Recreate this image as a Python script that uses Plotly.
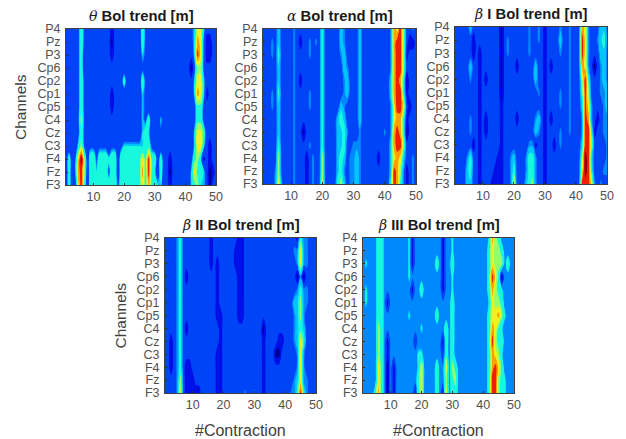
import plotly.graph_objects as go

channels = ["P4","Pz","P3","Cp6","Cp2","Cp1","Cp5","C4","Cz","C3","F4","Fz","F3"]
contractions = list(range(1, 51))
x_ticks = [10, 20, 30, 40, 50]

theta = [
[2,2,2,2,3,5,3,2,2,2, 2,2,2,2,2,1,2,2,2,2, 2,2,2,2,2,5,3,2,2,2, 2,2,2,2,2,2,2,2,2,2, 2,3,4,7,7,4,2,2,2,2],
[2,2,2,2,3,5,3,2,2,2, 2,2,2,2,2,0,2,2,2,2, 2,2,2,2,2,5,3,2,2,2, 2,2,2,2,2,2,2,2,2,2, 2,3,4,8,7,3,1,1,2,2],
[2,2,2,2,3,5,2,2,2,2, 2,2,2,2,2,1,2,2,2,2, 2,2,2,2,2,4,3,2,2,2, 2,2,2,2,2,2,2,2,2,2, 2,2,4,9,7,3,1,1,2,2],
[2,2,2,2,3,5,2,2,2,2, 2,2,2,2,2,2,2,2,2,2, 2,2,2,2,2,3,2,2,2,2, 2,2,2,2,2,2,2,2,2,2, 2,0,3,6,6,3,2,2,2,2],
[2,2,2,2,3,5,3,2,2,2, 2,2,2,2,2,2,2,2,2,5, 2,2,2,2,2,5,3,2,2,2, 2,2,2,2,2,2,2,2,2,2, 2,2,4,7,7,4,2,2,2,2],
[2,2,2,2,3,5,3,2,2,2, 2,2,2,2,2,1,2,2,2,2, 2,2,2,2,2,4,3,2,2,2, 2,2,2,2,2,2,2,2,2,2, 2,2,4,8,7,4,1,2,2,2],
[2,2,2,2,3,5,3,2,2,2, 2,2,2,2,2,1,2,2,2,2, 2,2,2,2,2,4,3,2,2,2, 2,2,2,2,2,2,2,2,2,2, 2,2,3,5,5,3,2,2,2,2],
[2,2,2,2,3,6,3,2,2,2, 2,2,2,2,2,2,2,2,2,2, 2,2,2,2,2,4,3,5,2,2, 2,4,2,2,2,2,2,2,2,2, 2,2,3,5,5,3,2,2,2,2],
[2,2,2,2,3,5,3,2,2,2, 2,2,2,2,2,2,2,2,2,2, 2,2,2,2,2,4,5,4,2,2, 2,3,2,2,2,2,2,2,2,2, 2,2,4,7,7,5,2,2,2,2],
[2,2,2,2,4,6,3,2,3,3, 2,3,3,3,2,3,3,2,3,4, 4,4,4,4,4,4,5,5,3,2, 2,2,2,2,2,2,2,2,2,2, 2,2,4,7,7,4,2,1,2,2],
[2,5,2,3,7,10,6,2,5,5, 3,5,5,5,4,5,5,2,5,5, 5,5,5,5,5,7,5,9,5,5, 2,5,2,2,1,2,2,2,2,2, 2,3,5,6,4,1,2,1,2,2],
[2,5,2,3,8,9,6,2,5,5, 4,5,5,5,3,5,5,2,5,5, 5,5,5,5,5,8,5,9,5,4, 2,5,2,2,0,2,2,2,2,2, 2,4,7,5,5,4,2,0,1,2],
[2,5,2,2,7,9,5,2,5,5, 5,5,5,5,5,5,5,3,5,5, 5,5,5,5,5,7,5,8,5,5, 4,4,2,2,1,2,2,2,2,2, 2,4,5,6,4,4,2,0,2,2],
]

alpha = [
[2,2,2,2,2,4,2,2,2,2, 3,2,2,2,2,2,2,2,2,5, 2,2,2,2,2,4,3,2,2,2, 2,4,2,2,2,2,2,2,2,2, 2,3,8,7,9,6,2,2,3,2],
[2,2,2,3,2,4,2,2,2,2, 3,2,1,2,2,3,2,3,2,5, 2,2,2,2,2,4,3,2,2,2, 2,4,2,2,2,2,2,2,2,2, 2,3,8,9,9,6,2,1,1,2],
[2,2,2,3,2,5,2,2,2,2, 3,2,2,2,2,3,2,2,2,5, 2,2,2,2,2,3,4,2,2,2, 2,4,2,2,2,2,2,2,2,2, 2,3,8,9,9,6,1,2,2,2],
[2,2,2,2,2,4,2,2,2,2, 3,2,2,2,2,2,2,2,2,5, 2,2,2,2,2,2,4,3,2,2, 2,4,2,2,2,2,2,2,2,2, 2,3,8,9,9,6,2,2,2,2],
[2,2,2,2,2,4,2,2,2,2, 3,2,1,2,2,2,2,2,2,5, 2,2,2,2,2,2,3,4,2,2, 2,4,2,2,2,2,2,2,2,2, 2,4,8,9,8,5,0,2,2,2],
[2,2,2,3,2,5,2,2,2,2, 3,2,2,2,2,3,2,2,2,5, 2,2,2,2,2,2,3,4,2,2, 2,4,2,2,2,2,2,2,2,2, 2,4,8,9,9,5,1,2,2,2],
[2,2,2,3,2,4,2,2,2,2, 3,2,2,2,2,3,2,2,2,5, 2,2,2,2,2,4,3,2,2,2, 2,4,2,2,2,2,2,2,2,2, 2,3,7,9,9,7,2,1,2,2],
[2,2,2,2,2,4,2,2,2,2, 3,2,2,2,2,2,2,2,2,5, 2,2,2,2,4,5,4,2,2,2, 2,4,2,2,2,2,2,2,2,2, 2,3,7,8,8,5,1,2,2,2],
[2,2,2,2,2,4,2,2,2,2, 3,2,2,0,2,2,2,2,2,5, 2,2,2,2,4,4,5,3,2,2, 2,3,2,2,2,2,2,2,2,3, 2,3,8,9,8,5,0,2,2,2],
[2,2,2,2,2,5,2,2,2,2, 3,2,2,2,2,3,2,2,2,5, 2,2,2,2,4,4,5,2,2,3, 3,3,2,2,2,2,2,2,2,2, 2,4,8,9,9,6,2,2,2,2],
[2,2,2,2,2,6,2,2,2,2, 3,2,2,2,1,2,3,2,2,6, 2,2,2,2,4,5,4,2,3,3, 4,3,2,2,2,2,2,1,2,2, 2,4,7,8,7,4,2,2,3,2],
[2,2,2,2,3,6,2,2,2,2, 3,2,2,2,1,2,3,2,2,6, 2,2,2,2,4,5,3,2,3,3, 4,3,2,2,2,2,2,2,2,2, 2,4,9,8,6,3,1,2,3,2],
[2,2,2,2,3,7,3,2,2,2, 3,2,2,2,1,2,3,2,2,7, 2,2,2,2,5,6,4,2,3,3, 4,3,2,2,2,2,2,2,2,2, 2,5,9,8,5,3,1,2,3,2],
]

beta1 = [
[2,2,2,2,2,4,2,2,2,2, 2,2,2,2,2,0,2,2,2,2, 2,2,2,2,3,2,2,3,2,1, 2,2,2,2,3,2,2,3,2,2, 2,8,7,3,2,2,2,4,4,3],
[2,2,2,2,2,2,1,2,2,2, 2,2,2,2,2,0,2,3,2,2, 2,2,2,2,3,2,2,3,2,1, 2,2,2,2,4,2,2,3,2,2, 2,9,7,3,2,2,3,4,5,3],
[2,2,2,2,2,2,1,2,1,2, 2,2,2,2,2,0,2,3,2,2, 2,2,2,2,3,2,2,2,2,1, 2,2,2,2,3,2,2,3,2,2, 2,9,7,3,2,2,2,4,4,3],
[2,2,2,2,2,4,2,2,1,2, 2,2,2,2,2,0,2,2,2,2, 1,2,2,2,2,2,4,2,2,1, 2,1,2,2,2,2,2,3,2,2, 2,8,7,3,2,0,2,3,4,3],
[2,2,2,2,2,3,2,2,1,2, 1,2,2,2,2,0,2,2,2,2, 2,2,2,2,2,2,4,2,2,1, 2,2,2,2,2,2,2,3,2,2, 2,6,9,5,2,2,2,3,4,3],
[2,2,2,2,2,2,2,2,1,2, 2,2,2,2,2,0,2,2,2,2, 2,2,2,2,2,2,2,3,2,1, 2,2,2,2,3,2,2,3,2,2, 2,5,9,6,2,2,2,3,3,4],
[2,2,2,2,2,2,2,2,1,2, 2,2,2,2,2,1,2,2,2,2, 2,2,2,2,2,2,2,2,2,1, 2,2,2,2,3,2,2,3,2,2, 2,4,9,7,3,2,2,2,3,4],
[2,2,2,2,2,3,2,2,1,2, 1,2,2,2,2,1,2,2,2,2, 1,2,2,2,2,2,3,4,2,1, 2,1,2,2,2,2,2,3,2,2, 2,3,9,8,3,2,1,2,3,3],
[2,2,2,2,2,3,2,2,1,2, 1,2,2,2,2,1,2,2,2,2, 2,2,2,2,2,2,4,3,2,1, 2,2,2,2,3,2,2,3,2,2, 2,3,9,9,5,1,2,2,3,3],
[2,2,2,2,2,2,1,2,1,2, 2,2,2,2,2,1,2,2,2,2, 2,2,2,2,3,3,1,2,2,1, 2,2,1,2,3,2,2,2,2,2, 2,4,9,9,6,2,2,2,2,3],
[2,2,2,2,3,5,2,2,1,2, 2,2,2,2,1,1,2,2,3,4, 2,2,2,3,5,5,3,2,2,1, 2,2,2,2,2,2,2,2,2,2, 2,6,10,9,4,2,2,2,2,3],
[2,2,2,2,4,5,2,2,1,2, 2,2,2,1,1,1,2,2,3,5, 2,2,2,3,5,5,3,2,2,1, 2,2,2,2,2,2,2,2,2,2, 2,7,10,9,5,2,2,2,3,3],
[2,2,2,2,4,4,2,2,1,2, 2,2,1,1,1,1,2,2,3,7, 2,2,2,4,5,6,3,2,2,1, 2,2,2,2,2,2,2,2,2,2, 2,9,9,9,7,3,2,3,2,2],
]

beta2 = [
[2,2,2,2,3,5,2,2,2,2, 2,2,2,2,2,1,2,2,2,2, 2,2,2,2,1,1,2,2,2,2, 2,2,2,2,2,2,2,2,2,2, 2,2,2,1,5,3,3,2,2,2],
[2,2,2,2,3,5,2,2,2,2, 2,2,2,2,2,1,2,2,2,2, 2,2,2,1,1,1,2,2,2,2, 2,2,2,2,2,2,2,2,2,2, 2,2,3,3,7,3,3,2,2,2],
[2,2,2,2,3,5,2,2,2,2, 2,2,2,2,2,1,2,1,2,2, 2,2,2,1,1,1,2,2,2,2, 2,2,2,2,2,2,2,2,2,2, 2,2,2,3,7,3,3,2,2,2],
[2,2,2,2,3,5,2,1,2,2, 2,2,2,2,2,2,2,1,2,2, 2,2,2,2,1,1,2,2,2,2, 2,2,2,2,2,2,2,2,2,2, 2,2,2,0,3,0,2,2,2,2],
[2,2,2,2,3,5,2,2,2,2, 2,2,2,2,2,2,2,1,2,2, 2,2,2,2,1,1,2,2,2,2, 2,2,2,2,2,2,2,2,2,2, 2,2,2,3,5,3,3,2,2,2],
[2,2,2,2,3,5,2,2,2,2, 2,2,2,2,2,2,2,1,2,2, 2,2,2,2,1,1,2,2,2,2, 2,2,2,2,2,2,2,2,2,2, 2,2,4,4,6,3,3,2,2,2],
[2,2,2,2,3,5,2,2,2,2, 2,2,2,2,2,2,2,1,1,2, 2,2,2,2,1,1,2,2,2,2, 2,2,2,2,2,2,2,2,2,2, 2,2,3,4,6,3,2,2,2,2],
[2,2,2,2,3,5,2,1,2,2, 2,2,2,2,2,2,2,2,1,2, 2,2,2,2,2,2,2,2,2,2, 2,2,0,2,2,2,2,2,2,2, 2,2,3,4,5,4,2,2,2,2],
[2,2,1,2,3,5,2,2,2,2, 2,2,2,2,2,2,2,2,1,2, 2,2,2,2,2,2,2,2,2,2, 2,2,1,2,2,2,2,1,1,2, 2,2,3,4,7,5,2,2,2,2],
[2,2,1,2,3,5,2,2,2,2, 2,2,2,2,2,2,2,1,1,2, 2,2,2,2,2,2,2,2,2,2, 2,2,1,2,2,2,0,0,2,2, 2,2,2,3,7,3,2,2,2,2],
[2,2,1,2,3,5,2,1,1,2, 2,2,2,2,2,2,2,1,1,2, 2,2,2,2,2,2,2,2,2,2, 2,2,1,2,2,2,2,2,2,2, 2,2,2,3,7,3,2,2,2,2],
[2,2,2,2,3,6,2,1,1,1, 2,2,2,2,2,2,2,1,1,2, 2,2,2,2,2,2,2,2,2,2, 2,2,1,2,2,2,2,2,2,2, 2,2,3,4,7,3,3,2,2,2],
[2,2,2,2,3,7,2,1,1,1, 1,1,2,2,2,2,2,1,1,2, 2,2,2,2,2,2,3,2,2,3, 2,2,1,2,2,2,2,2,2,2, 2,3,3,5,9,5,3,2,2,2],
]

beta3 = [
[3,3,3,3,3,5,5,3,3,3, 3,3,3,3,3,4,1,3,3,3, 3,3,3,3,3,3,1,3,3,4, 3,3,3,3,3,3,3,3,3,3, 3,4,8,6,5,3,3,3,3,3],
[3,3,3,3,3,5,5,3,3,3, 3,3,3,3,3,4,1,3,3,3, 3,3,3,3,3,3,1,3,3,4, 3,3,3,3,3,3,3,3,3,3, 3,5,7,6,6,5,3,3,3,3],
[3,4,3,3,3,5,5,3,3,3, 3,3,3,3,3,4,1,3,3,3, 3,3,3,3,5,3,1,3,3,5, 3,3,3,3,3,3,3,3,3,3, 3,5,7,6,6,6,3,5,3,3],
[3,3,3,3,3,5,5,3,3,3, 3,3,3,3,3,4,3,3,3,3, 3,3,3,3,3,3,1,3,3,4, 3,3,3,3,3,3,3,3,3,3, 3,5,9,7,5,0,3,3,3,3],
[3,4,3,3,3,5,5,3,3,3, 3,3,3,3,3,3,1,3,3,5, 3,3,3,3,3,3,1,3,3,4, 3,3,3,3,3,3,3,3,3,3, 3,5,8,6,5,4,3,3,3,3],
[3,4,3,3,3,5,5,3,1,3, 3,3,3,3,3,3,3,3,3,3, 3,3,3,3,3,3,3,3,3,5, 3,3,3,3,3,3,3,3,3,3, 3,4,7,6,6,5,3,3,3,3],
[3,3,3,3,3,5,5,3,3,3, 3,3,3,3,3,4,3,3,3,3, 3,3,3,3,5,3,3,3,3,5, 3,3,3,3,3,3,3,3,3,3, 3,5,7,7,8,6,4,3,3,3],
[3,3,3,3,3,6,5,3,3,3, 3,3,3,3,3,3,3,3,3,4, 3,3,3,3,3,3,3,5,3,5, 3,3,3,3,3,3,3,3,3,3, 3,5,8,7,5,4,3,3,3,3],
[3,3,3,3,3,6,5,3,1,3, 3,3,3,3,3,3,3,2,3,3, 3,3,3,3,3,3,1,5,3,5, 3,3,3,3,3,3,3,3,3,3, 3,5,9,6,5,5,3,3,3,3],
[3,3,3,3,3,6,5,3,1,3, 3,3,3,3,3,3,3,3,4,4, 3,3,3,3,3,3,2,5,3,5, 3,3,3,3,3,3,3,3,3,3, 3,5,8,7,6,4,3,3,3,3],
[3,3,3,3,3,7,5,3,0,3, 1,3,3,3,3,3,3,3,4,7, 3,3,3,3,5,3,3,7,3,6, 5,3,3,3,3,3,3,3,3,3, 3,5,8,9,7,5,3,3,3,3],
[3,3,3,3,3,7,5,3,0,3, 1,3,3,3,3,3,3,3,5,7, 3,3,3,3,5,3,3,6,3,5, 6,3,3,3,3,3,3,3,3,3, 3,5,9,9,6,5,4,3,3,3],
[3,3,3,3,5,8,5,3,0,3, 1,3,3,3,3,3,3,1,5,7, 3,3,3,3,5,3,1,7,3,5, 5,3,3,3,3,3,3,3,3,3, 3,5,9,9,6,4,4,3,3,3],
]

level_colors = ["#000090","#0010e8","#0044f8","#0088ff","#00c4ff","#18f8dc",
                "#90ff70","#f0f020","#ffa000","#f02000","#900000"]
edges_default = [-0.5, 0.5, 1.6, 2.7, 3.3, 4.3, 5.5, 6.5, 7.5, 8.5, 9.5, 10.5]
edges_theta = [-0.5, 0.5, 1.6, 3.4, 3.7, 4.0, 5.5, 6.5, 7.5, 8.5, 9.5, 10.5]
edges_beta3 = [-0.5, 0.5, 1.6, 2.7, 3.6, 3.8, 5.5, 6.5, 7.5, 8.5, 9.5, 10.5]

serif = '<span style="font-family:DejaVu Serif;font-size:14px"><i>%s</i></span> <b>%s</b>'
panels = [
    (theta, serif % ("θ", "Bol trend [m]"), 66, 216, 29, 185, True, False, edges_theta),
    (alpha, serif % ("α", "Bol trend [m]"), 263, 416, 29, 184, False, False, edges_default),
    (beta1, serif % ("β", "I Bol trend [m]"), 455, 607, 27, 184, False, False, edges_default),
    (beta2, serif % ("β", "II Bol trend [m]"), 165, 316, 238, 393, True, True, edges_default),
    (beta3, serif % ("β", "III Bol trend [m]"), 363, 514, 238, 393, False, True, edges_beta3),
]

W, H = 626, 439


def step_scale(edges):
    span = edges[-1] - edges[0]
    out = []
    for i, c in enumerate(level_colors):
        out += [[(edges[i] - edges[0]) / span, c], [(edges[i + 1] - edges[0]) / span, c]]
    return out


fig = go.Figure()
layout = dict(width=W, height=H, margin=dict(l=0, r=0, t=0, b=0), showlegend=False,
              paper_bgcolor="white", plot_bgcolor="white",
              font=dict(family="Liberation Sans", color="#404040", size=12))
annotations = []
for k, (z, title, x0, x1, y0, y1, ylab, xlab, edges) in enumerate(panels, start=1):
    sx = "" if k == 1 else str(k)
    fig.add_trace(go.Contour(
        z=z, x=contractions, y=channels, xaxis="x" + sx, yaxis="y" + sx,
        autocontour=False, contours=dict(start=-0.5, end=10.5, size=0.1, coloring="fill", showlines=False),
        line=dict(width=0), colorscale=step_scale(edges), zmin=-0.5, zmax=10.5, showscale=False))
    layout["xaxis" + sx] = dict(
        domain=[x0 / W, x1 / W], anchor="y" + sx, range=[1, 50], tickvals=x_ticks,
        ticks="inside", ticklen=2, tickcolor="#303030", showline=True, linecolor="#404040",
        linewidth=1, mirror=True, showgrid=False, zeroline=False, automargin=False,
        tickfont=dict(size=12.5, color="#505050"))
    layout["yaxis" + sx] = dict(
        domain=[1 - y1 / H, 1 - y0 / H], anchor="x" + sx, autorange=False, range=[12, 0],
        type="category", categoryorder="array", categoryarray=channels,
        tickmode="array", tickvals=channels, ticktext=channels, ticklabelstandoff=2,
        ticks="inside", ticklen=2, tickcolor="#303030", showline=True, linecolor="#404040",
        linewidth=1, mirror=True, showgrid=False, zeroline=False, automargin=False,
        tickfont=dict(size=12.5, color="#505050"))
    annotations.append(dict(text=title, x=(x0 + x1) / 2 / W, y=1 - (y0 - 13) / H, xref="paper", yref="paper",
                            xanchor="center", yanchor="middle", showarrow=False,
                            font=dict(size=14.8, color="#1a1a1a", family="Liberation Sans")))
    if xlab:
        annotations.append(dict(text="#Contraction", x=(x0 + x1) / 2 / W, y=1 - 430 / H, xref="paper", yref="paper",
                                xanchor="center", yanchor="middle", showarrow=False,
                                font=dict(size=16, color="#404040")))
    if ylab:
        annotations.append(dict(text="Channels", x=(x0 - 45) / W, y=1 - (y0 + y1) / 2 / H, xref="paper", yref="paper",
                                xanchor="center", yanchor="middle", showarrow=False, textangle=-90,
                                font=dict(size=15.5, color="#404040")))
layout["annotations"] = annotations
fig.update_layout(**layout)
for r in theta + alpha + beta1 + beta2 + beta3:
    assert len(r) == 50, r
fig.write_html("out.html", config={"displayModeBar": False},
               post_script="document.body.style.margin='0';document.body.style.overflow='hidden';")
